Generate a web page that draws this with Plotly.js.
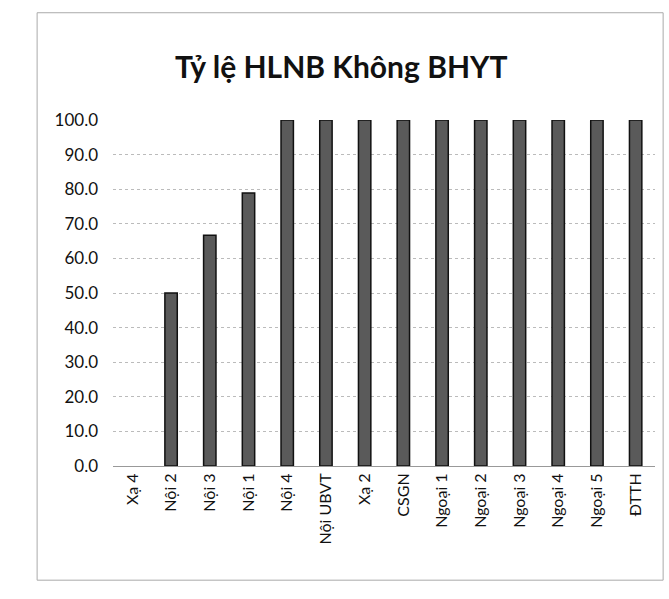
<!DOCTYPE html>
<html>
<head>
<meta charset="utf-8">
<script src="https://cdn.plot.ly/plotly-3.0.1.min.js"></script>
<style>html,body{margin:0;padding:0;background:#fff;}#chart{width:669px;height:599px;}</style>
</head>
<body>
<div id="chart"></div>
<script>
const categories = ["Xạ 4","Nội 2","Nội 3","Nội 1","Nội 4","Nội UBVT","Xạ 2","CSGN","Ngoại 1","Ngoại 2","Ngoại 3","Ngoại 4","Ngoại 5","ĐTTH"];
const values = [0, 50.0, 66.7, 78.9, 100, 100, 100, 100, 100, 100, 100, 100, 100, 100];
const yTicks = [0,10,20,30,40,50,60,70,80,90,100];

const trace = {
  type: 'bar',
  x: categories,
  y: values,
  marker: {color: '#5a5a5a', line: {color: '#111', width: values.map(v => v > 0 ? 1.5 : 0)}},
  hoverinfo: 'x+y'
};

const layout = {
  width: 669, height: 599,
  paper_bgcolor: '#fff', plot_bgcolor: '#fff',
  margin: {l: 113, r: 14, t: 120, b: 133},
  bargap: 0.68,
  showlegend: false,
  title: {text: 'Tỷ lệ HLNB Không BHYT', x: 0.51, xanchor: 'center', y: 0.888, yanchor: 'middle',
          font: {family: 'Lato, "Open Sans", sans-serif', size: 30, color: '#111', weight: 'bold'}},
  font: {family: 'Lato, "Open Sans", sans-serif', color: '#111'},
  xaxis: {
    type: 'category',
    tickangle: -90,
    tickfont: {size: 16, color: '#111'},
    showline: true, linecolor: '#999', linewidth: 1,
    ticks: '', showgrid: false
  },
  yaxis: {
    range: [0, 100],
    tickvals: yTicks,
    ticktext: yTicks.map(v => v.toFixed(1)),
    tickfont: {size: 17, color: '#111'},
    showgrid: true, gridcolor: '#bbb', gridwidth: 1, griddash: 'dot',
    zeroline: false, showline: false, ticks: '', ticklabelstandoff: 14
  },
  shapes: [{
    type: 'rect', xref: 'paper', yref: 'paper',
    x0: -0.14, x1: 1.015, y0: -0.33, y1: 1.31,
    line: {color: '#aaa', width: 1}
  }]
};

Plotly.newPlot('chart', [trace], layout, {displayModeBar: false, staticPlot: true});
</script>
</body>
</html>
